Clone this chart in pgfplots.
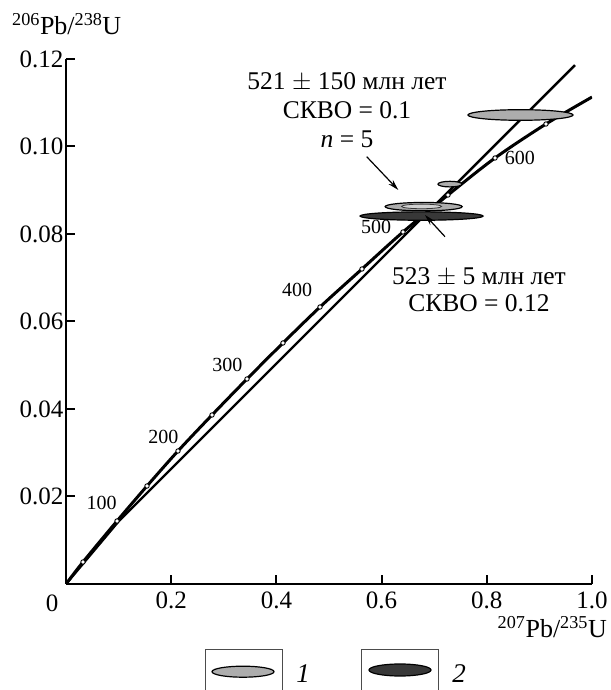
\documentclass[border=0pt]{standalone}
\usepackage{fontspec}
\setmainfont{Liberation Serif}
\usepackage{pgfplots}
\pgfplotsset{compat=1.18}
\usepackage{pgfplotstable}
\usetikzlibrary{arrows.meta}
\definecolor{lightE}{gray}{0.68}
\definecolor{innerE}{gray}{0.82}
\definecolor{darkE}{gray}{0.22}
% ellipse marks: name, x half-axis (pt), y half-axis (pt)
\newcommand\defell[3]{\pgfdeclareplotmark{#1}{\pgfpathellipse{\pgfpointorigin}{\pgfqpoint{#2pt}{0pt}}{\pgfqpoint{0pt}{#3pt}}\pgfusepathqfillstroke}}
\defell{ellD}{61.5}{4.2}
\defell{ellA}{52.5}{5.3}
\defell{ellB}{12}{2.8}
\defell{ellC}{38.5}{4.2}
\defell{ellCi}{20}{2.3}

% concordia curve (read from the figure)
\pgfplotstableread{
x y
0 0
0.0323 0.00503
0.0970 0.01440
0.1540 0.02240
0.2129 0.03040
0.2776 0.03863
0.3441 0.04686
0.4125 0.05509
0.4829 0.06331
0.5627 0.07200
0.6407 0.08046
0.7262 0.08891
0.8156 0.09737
0.9125 0.10514
1.0 0.1113
}\concordia

% age marks every 50 Ma
\pgfplotstableread{
x y
0.0323 0.00503
0.0970 0.01440
0.1540 0.02240
0.2129 0.03040
0.2776 0.03863
0.3441 0.04686
0.4125 0.05509
0.4829 0.06331
0.5627 0.07200
0.6407 0.08046
0.7262 0.08891
0.8156 0.09737
0.9125 0.10514
}\agepoints

% discordia (read from the figure)
\pgfplotstableread{
x y
0 0
0.0994 0.01424
0.9676 0.1186
}\chord

\begin{document}
\begin{tikzpicture}
\path[use as bounding box] (0,0) rectangle (610pt,690pt);
\begin{axis}[
  at={(66pt,106pt)}, anchor=south west,
  width=526pt, height=525pt, scale only axis,
  xmin=0, xmax=1, ymin=0, ymax=0.12,
  axis lines=left,
  axis line style={line width=2pt, -},
  xtick={0.2,0.4,0.6,0.8,1.0},
  ytick={0.02,0.04,0.06,0.08,0.10,0.12},
  tick align=inside,
  major tick length=9pt,
  tick style={line width=2pt, black},
  scaled ticks=false,
  /pgf/number format/assume math mode=true,
  tick label style={font=\fontsize{25}{29}\selectfont},
  xticklabel style={yshift=-4pt, /pgf/number format/.cd, fixed, fixed zerofill, precision=1},
  yticklabel style={xshift=1pt, /pgf/number format/.cd, fixed, fixed zerofill, precision=2},
]
% type 2 ellipse
\addplot[only marks, mark=ellD, mark options={fill=darkE, draw=black, line width=1.2pt}] coordinates {(0.676,0.0841)};
% type 1 ellipses
\addplot[only marks, mark=ellA, mark options={fill=lightE, draw=black, line width=1.2pt}] coordinates {(0.864,0.1072)};
\addplot[only marks, mark=ellB, mark options={fill=lightE, draw=black, line width=1.2pt}] coordinates {(0.730,0.0914)};
\addplot[only marks, mark=ellC, mark options={fill=lightE, draw=black, line width=1.2pt}] coordinates {(0.680,0.08625)};
\addplot[only marks, mark=ellCi, mark options={fill=innerE, draw=darkE, line width=0.8pt}] coordinates {(0.676,0.0863)};
% lines
\addplot[black, line width=2.4pt, no marks] table {\chord};
\addplot[black, line width=3pt, smooth, no marks] table {\concordia};
\addplot[only marks, mark=*, mark size=2.2pt, mark options={fill=white, draw=black, line width=0.9pt}] table {\agepoints};
\begin{scope}[font=\fontsize{20}{24}\selectfont]
\node at (axis cs:0.0679,0.01859) {100};
\node at (axis cs:0.1850,0.03367) {200};
\node at (axis cs:0.3067,0.05006) {300};
\node at (axis cs:0.4392,0.06721) {400};
\node at (axis cs:0.5894,0.08168) {500};
\node at (axis cs:0.8631,0.09745) {600};
\end{scope}
\end{axis}
% axis titles
\node[anchor=base west, inner sep=0pt, font=\fontsize{26}{30}\selectfont] at (12pt,655pt) {\textsuperscript{206}Pb/\textsuperscript{238}U};
\node[anchor=base east, inner sep=0pt, font=\fontsize{26}{30}\selectfont] at (607pt,52pt) {\textsuperscript{207}Pb/\textsuperscript{235}U};
\node[font=\fontsize{25}{29}\selectfont] at (52pt,87pt) {0};
% annotations
\node[align=center, font=\fontsize{25.5}{29}\selectfont] at (347pt,580pt) {521 $\pm$ 150 млн лет\\СКВО = 0.1\\\textit{n} = 5};
\node[align=center, font=\fontsize{25.5}{27}\selectfont] at (479pt,400pt) {523 $\pm$ 5 млн лет\\СКВО = 0.12};
\draw[-{Stealth[length=11pt,width=6pt]}, line width=1.2pt] (366.7pt,533.3pt) -- (398.3pt,500pt);
\draw[-{Stealth[length=11pt,width=6pt]}, line width=1.2pt] (445pt,453.3pt) -- (425pt,475pt);
% legend
\draw[gray!60!black, line width=1pt] (205pt,-5pt) -- (205pt,40pt) -- (282pt,40pt) -- (282pt,-5pt);
\draw[fill=lightE, line width=1.2pt] (243pt,18.3pt) ellipse [x radius=31pt, y radius=5.5pt];
\node[font=\fontsize{27}{30}\selectfont] at (303pt,16pt) {\textit{1}};
\draw[gray!60!black, line width=1pt] (361pt,-5pt) -- (361pt,40pt) -- (438pt,40pt) -- (438pt,-5pt);
\draw[fill=darkE, line width=1.2pt] (400pt,20pt) ellipse [x radius=31pt, y radius=6pt];
\node[font=\fontsize{27}{30}\selectfont] at (459pt,16pt) {\textit{2}};
\end{tikzpicture}
\end{document}
